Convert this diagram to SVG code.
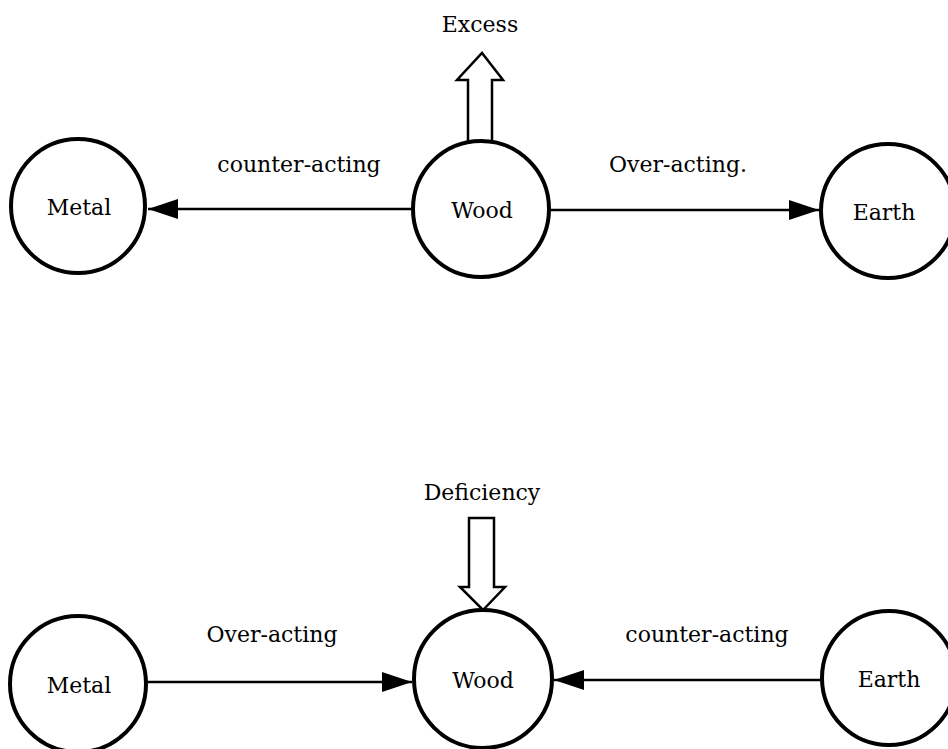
<svg xmlns="http://www.w3.org/2000/svg" width="948" height="749" viewBox="0 0 948 749">
<style>
.node circle{fill:#fff;stroke:#000;stroke-width:4}
text{font-family:"DejaVu Serif","Liberation Serif",serif;font-size:22px;fill:#000;text-anchor:middle}
.conn line{stroke:#000;stroke-width:2.5}
.block{fill:#fff;stroke:#000;stroke-width:2.5;stroke-linejoin:miter}
</style>
<defs>
<marker id="ah" markerUnits="userSpaceOnUse" markerWidth="32" markerHeight="22" refX="30" refY="10" orient="auto">
<path d="M0,0 L30,10 L0,20 Z" fill="#000"/>
</marker>
</defs>
<rect width="948" height="749" fill="#fff"/>
<g class="conn">
<line x1="413" y1="209" x2="148" y2="209" marker-end="url(#ah)"/>
<line x1="550" y1="210" x2="819" y2="210" marker-end="url(#ah)"/>
<line x1="146" y1="682" x2="412" y2="682" marker-end="url(#ah)"/>
<line x1="822" y1="680" x2="554" y2="680" marker-end="url(#ah)"/>
<polygon class="block" points="468,142 468,80 457,80 482,53 503,80 492,80 492,142"/>
<polygon class="block" points="469,518 494,518 494,587 505,587 483,610 460,587 469,587"/>
</g>
<g id="metal-top" class="node"><circle cx="78" cy="206" r="67"/><text x="79" y="215">Metal</text></g>
<g id="wood-top" class="node"><circle cx="481" cy="209" r="68"/><text x="482" y="218">Wood</text></g>
<g id="earth-top" class="node"><circle cx="888" cy="211" r="67"/><text x="884" y="220">Earth</text></g>
<g id="metal-bottom" class="node"><circle cx="78" cy="684" r="68"/><text x="79" y="693">Metal</text></g>
<g id="wood-bottom" class="node"><circle cx="483" cy="679" r="69"/><text x="483" y="688">Wood</text></g>
<g id="earth-bottom" class="node"><circle cx="889" cy="678" r="67"/><text x="889" y="687">Earth</text></g>
<g id="labels">
<text x="480" y="32">Excess</text>
<text x="299" y="172">counter-acting</text>
<text x="678" y="172">Over-acting.</text>
<text x="482" y="500">Deficiency</text>
<text x="272" y="642">Over-acting</text>
<text x="707" y="642">counter-acting</text>
</g>
</svg>
